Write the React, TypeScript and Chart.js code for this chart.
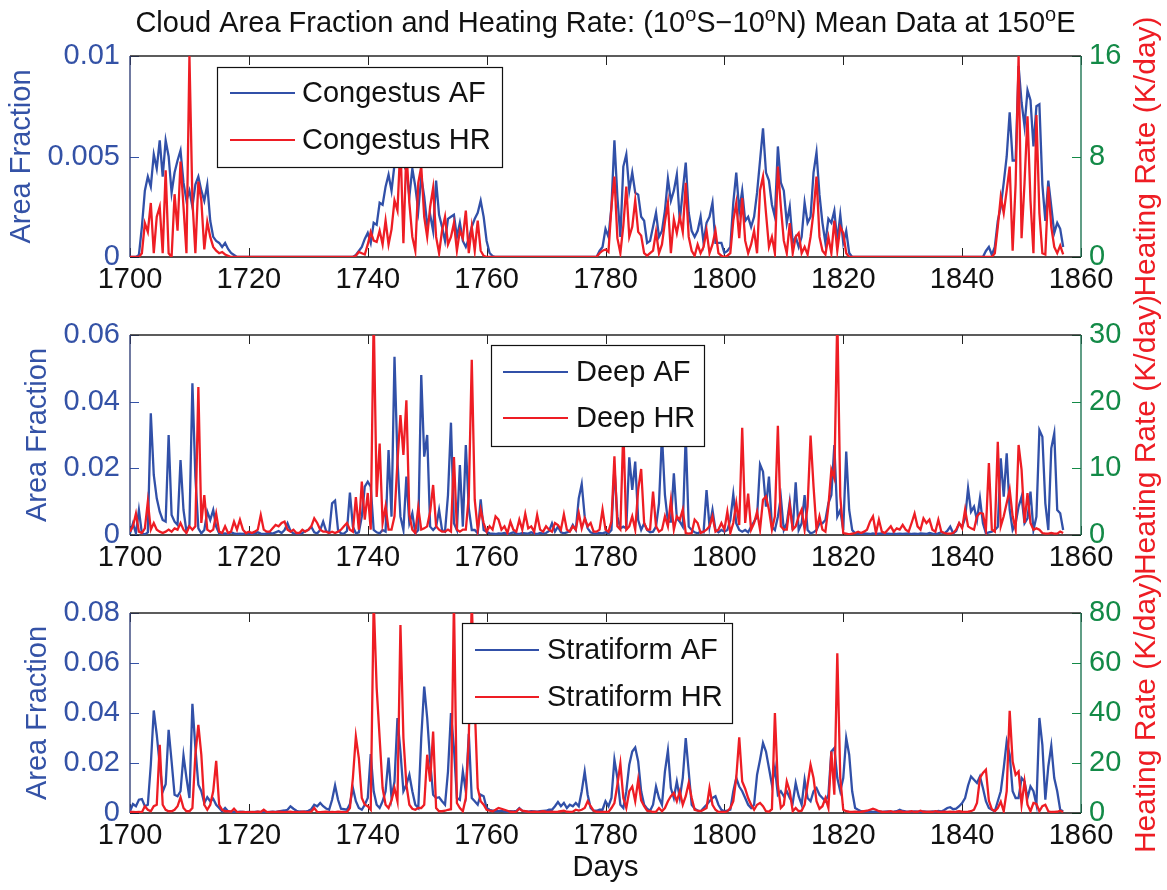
import React, { useEffect, useRef } from 'react';
import { Chart, registerables } from 'chart.js';

Chart.register(...registerables);

const FONT = '"Liberation Sans", Arial, Helvetica, sans-serif';
const FS = 29;
const BLUE = '#3452A6';
const RED = '#EE1D24';
const GREEN = '#138A47';
const LINE_BLUE = '#3150A8';
const LINE_W = 2.3;

// Time axis (days, 0.5-day steps from 1700)
const days = Array.from({ length: 315 }, (_, i) => 1700 + i * 0.5);
const xMin = 1700;
const xMax = 1860;
const xStep = 20;

// ---- Congestus ----
const congestusAF = [
  0, 0, 0, 0.0001, 0.0015, 0.0033, 0.004, 0.0035, 0.0051, 0.0044, 0.0058, 0.004, 0.0058, 0.005, 0.0032, 0.0042, 0.0048, 0.0053, 0.0037, 0.0028,
  0.0033, 0.0025, 0.0036, 0.004, 0.0033, 0.0028, 0.0036, 0.0018, 0.001, 0.0008, 0.0007, 0.0005, 0.0007, 0.0004, 0.0002, 0.0001, 0, 0, 0, 0,
  0, 0, 0, 0, 0, 0, 0, 0, 0, 0, 0, 0, 0, 0, 0, 0, 0, 0, 0, 0,
  0, 0, 0, 0, 0, 0, 0, 0, 0, 0, 0, 0, 0, 0, 0, 0, 0.0001, 0.0003, 0.0005, 0.0009,
  0.0012, 0.0007, 0.0017, 0.0016, 0.0027, 0.0026, 0.0035, 0.0041, 0.0033, 0.0046, 0.0054, 0.005, 0.0046, 0.0043, 0.003, 0.0044, 0.0035, 0.0023, 0.004, 0.003,
  0.0016, 0.0021, 0.0013, 0.0038, 0.0021, 0.0015, 0.0008, 0.0019, 0.002, 0.0021, 0.001, 0.0017, 0.0008, 0.0005, 0.0009, 0.0015, 0.0019, 0.0022, 0.0028, 0.002,
  0.0008, 0.0002, 0.00005, 0, 0, 0, 0, 0, 0, 0, 0, 0, 0, 0, 0, 0, 0, 0, 0, 0,
  0, 0, 0, 0, 0, 0, 0, 0, 0, 0, 0, 0, 0, 0, 0, 0, 0, 0, 0.0003, 0.0005,
  0.0014, 0.001, 0.0025, 0.0058, 0.003, 0.001, 0.0045, 0.0051, 0.0033, 0.0042, 0.0032, 0.0031, 0.002, 0.0018, 0.0007, 0.0008, 0.0015, 0.0022, 0.001, 0.0013,
  0.0023, 0.0039, 0.0028, 0.0033, 0.0041, 0.0018, 0.0033, 0.0047, 0.0022, 0.0013, 0.001, 0.0013, 0.002, 0.0007, 0.0017, 0.002, 0.0027, 0.0007, 0.0007, 0.0007,
  0.0002, 0.0003, 0.0005, 0.0027, 0.0042, 0.0023, 0.0033, 0.0018, 0.002, 0.0015, 0.002, 0.0032, 0.0048, 0.0064, 0.0042, 0.0038, 0.0026, 0.002, 0.0055, 0.0037,
  0.0033, 0.0017, 0.0025, 0.0007, 0.001, 0.0005, 0.001, 0.0027, 0.0017, 0.002, 0.0042, 0.0052, 0.0031, 0.0017, 0.0007, 0.0019, 0.0017, 0.0023, 0.0008, 0.0021,
  0.0007, 0.0013, 0.0002, 0, 0, 0, 0, 0, 0, 0, 0, 0, 0, 0, 0, 0, 0, 0, 0, 0,
  0, 0, 0, 0, 0, 0, 0, 0, 0, 0, 0, 0, 0, 0, 0, 0, 0, 0, 0, 0,
  0, 0, 0, 0, 0, 0, 0, 0, 0.0003, 0.0005, 0.0001, 0.0005, 0.0018, 0.0025, 0.0037, 0.005, 0.0072, 0.0048, 0.0048, 0.0095,
  0.0077, 0.0065, 0.0083, 0.0078, 0.0055, 0.0075, 0.0076, 0.0036, 0.0018, 0.0038, 0.0025, 0.0012, 0.0017, 0.0014, 0.0005,
];

const congestusHR = [
  0, 0, 0, 0, 0.3, 2.7, 2.0, 4.3, 0.3, 3.2, 4.0, 0.3, 6.9, 0.3, 0, 5.0, 2.1, 7.6, 4.0, 0.3,
  16, 4.5, 0.3, 6.0, 4.5, 0.6, 2.8, 1.6, 0.8, 0.5, 0.3, 0.4, 0.2, 0.1, 0, 0, 0, 0, 0, 0,
  0, 0, 0, 0, 0, 0, 0, 0, 0, 0, 0, 0, 0, 0, 0, 0, 0, 0, 0, 0,
  0, 0, 0, 0, 0, 0, 0, 0, 0, 0, 0, 0, 0, 0, 0, 0, 0.1, 0.4, 0.3, 0.2,
  1.0, 2.0, 1.3, 1.2, 2.1, 1.0, 2.9, 1.0, 2.2, 4.5, 3.7, 9.0, 1.1, 8.5, 4.3, 1.6, 0.5, 5.9, 7.2, 3.2,
  1.6, 4.0, 5.5, 1.6, 0.3, 2.1, 3.2, 1.0, 1.6, 2.7, 0.5, 2.1, 1.5, 3.7, 0.3, 2.4, 0.5, 2.9, 0.5, 0.1,
  0, 0, 0, 0, 0, 0, 0, 0, 0, 0, 0, 0, 0, 0, 0, 0, 0, 0, 0, 0,
  0, 0, 0, 0, 0, 0, 0, 0, 0, 0, 0, 0, 0, 0, 0, 0, 0, 0, 0.3, 0.5,
  0.6, 0.4, 4.0, 6.4, 1.5, 0.3, 2.5, 5.6, 1.6, 2.4, 4.5, 2.0, 1.7, 0.3, 0.1, 0.3, 0.5, 2.0, 0.3, 1.0,
  2.8, 4.3, 0.3, 3.0, 1.9, 3.2, 2.0, 5.9, 1.6, 0.5, 0.1, 1.0, 0.3, 0.8, 2.1, 0.3, 1.0, 2.1, 0.3, 0.1,
  0, 0.1, 0.3, 2.9, 4.3, 1.5, 4.7, 1.3, 0.3, 1.0, 2.1, 0.3, 5.3, 6.4, 3.5, 0.8, 1.6, 0.3, 7.2, 4.0,
  1.3, 0.3, 2.7, 0.3, 1.6, 1.9, 0.3, 0.8, 0.2, 1.6, 3.6, 6.4, 1.6, 0.5, 0.2, 1.6, 0.3, 2.9, 0.5, 2.4,
  1.9, 0.3, 0, 0, 0, 0, 0, 0, 0, 0, 0, 0, 0, 0, 0, 0, 0, 0, 0, 0,
  0, 0, 0, 0, 0, 0, 0, 0, 0, 0, 0, 0, 0, 0, 0, 0, 0, 0, 0, 0,
  0, 0, 0, 0, 0, 0, 0, 0, 0, 0, 0, 0.3, 2.4, 4.8, 3.5, 5.3, 7.2, 0.5, 5.8, 16,
  1.5, 5.9, 11.2, 4.5, 0.3, 11.3, 3.5, 0.3, 0.2, 5.6, 2.4, 0.8, 0.3, 0.9, 0.2,
];

// ---- Deep ----
const deepAF = [
  0.0005, 0.0035, 0.0005, 0.0075, 0.0005, 0.0002, 0.0008, 0.0365, 0.018, 0.011, 0.007, 0.0045, 0.004, 0.03, 0.006, 0.004, 0.003, 0.0225, 0.0075, 0.001,
  0.003, 0.0455, 0.0175, 0.002, 0.0005, 0.0015, 0.007, 0.0045, 0.0075, 0.0025, 0.0005, 0.0004, 0.0005, 0.0003, 0.0008, 0.0005, 0.0003, 0.0004, 0.0003, 0.0006,
  0.0004, 0.0003, 0.0005, 0.0008, 0.0004, 0.0003, 0.0005, 0.0006, 0.0004, 0.0008, 0.0012, 0.0006, 0.0015, 0.0035, 0.0012, 0.0005, 0.0004, 0.0003, 0.0006, 0.0012,
  0.0015, 0.0025, 0.0008, 0.0005, 0.0015, 0.004, 0.0012, 0.0006, 0.0095, 0.0103, 0.0015, 0.0005, 0.0004, 0.0012, 0.0127, 0.0025, 0.0005, 0.0008, 0.0055, 0.0145,
  0.016, 0.0145, 0.0015, 0.0008, 0.0005, 0.0015, 0.001, 0.0255, 0.0055, 0.0535, 0.0225, 0.0055, 0.0015, 0.0175, 0.0035, 0.0065, 0.0005, 0.0015, 0.048, 0.0235,
  0.03, 0.0025, 0.0015, 0.0025, 0.0075, 0.0015, 0.001, 0.012, 0.0337, 0.0035, 0.0015, 0.021, 0.0025, 0.027, 0.008, 0.0015, 0.0015, 0.0005, 0.0107, 0.0015,
  0.001, 0.0005, 0.0004, 0.0003, 0.0005, 0.0004, 0.0006, 0.0003, 0.0005, 0.0008, 0.0004, 0.0003, 0.0006, 0.0005, 0.0004, 0.0008, 0.0005, 0.0003, 0.0006, 0.0004,
  0.0006, 0.0012, 0.0035, 0.001, 0.0025, 0.0008, 0.0005, 0.0008, 0.0012, 0.003, 0.0015, 0.011, 0.0153, 0.0055, 0.002, 0.0008, 0.0005, 0.0004, 0.0006, 0.0005,
  0.0008, 0.0005, 0.0015, 0.0203, 0.0055, 0.002, 0.0025, 0.002, 0.0233, 0.0135, 0.022, 0.0045, 0.0015, 0.0035, 0.0015, 0.0008, 0.001, 0.0025, 0.0095, 0.03,
  0.012, 0.004, 0.004, 0.0185, 0.005, 0.004, 0.0025, 0.03, 0.0025, 0.0015, 0.0008, 0.0005, 0.001, 0.0008, 0.0135, 0.0025, 0.0075, 0.0015, 0.0008, 0.0015,
  0.001, 0.0015, 0.0045, 0.0122, 0.0035, 0.0015, 0.001, 0.0015, 0.0008, 0.0025, 0.004, 0.0055, 0.0212, 0.019, 0.0085, 0.0175, 0.0025, 0.0015, 0.0055, 0.0113,
  0.0015, 0.0035, 0.01, 0.0015, 0.0158, 0.0015, 0.0035, 0.012, 0.0015, 0.0005, 0.0008, 0.0015, 0.0035, 0.0035, 0.0045, 0.0095, 0.012, 0.027, 0.0055, 0.0075,
  0.0015, 0.025, 0.0075, 0.0015, 0.0005, 0.0004, 0.0003, 0.0005, 0.0004, 0.0003, 0.0005, 0.0003, 0.0004, 0.0005, 0.0003, 0.0004, 0.0003, 0.0005, 0.0003, 0.0004,
  0.0003, 0.0004, 0.0005, 0.0003, 0.0004, 0.0003, 0.0005, 0.0004, 0.0003, 0.0006, 0.0004, 0.0003, 0.0005, 0.0008, 0.0005, 0.0012, 0.0025, 0.0005, 0.0012, 0.0035,
  0.0025, 0.005, 0.014, 0.007, 0.0085, 0.0045, 0.011, 0.0035, 0.0005, 0.0008, 0.001, 0.0015, 0.0025, 0.023, 0.0115, 0.0245, 0.0075, 0.0015, 0.0035, 0.0085,
  0.0115, 0.0035, 0.005, 0.013, 0.0015, 0.0055, 0.0315, 0.0295, 0.0095, 0.0015, 0.026, 0.0305, 0.0075, 0.0065, 0.0015,
];

const deepHR = [
  0.5, 1.3, 3.2, 0.5, 0.3, 1.0, 5.0, 0.8, 1.8, 0.8, 0.5, 0.3, 0.5, 0.8, 0.5, 1.0, 0.8, 1.8, 0.8, 0.3,
  1.3, 0.8, 1.3, 22.2, 1.8, 6.0, 0.8, 0.5, 0.8, 3.2, 0.5, 0.3, 1.3, 0.3, 0.5, 2.0, 0.8, 2.3, 0.8, 0.3,
  0.5, 0.3, 0.5, 0.8, 3.0, 0.8, 0.5, 0.5, 1.0, 1.5, 1.3, 1.8, 2.0, 0.8, 0.5, 0.8, 0.3, 0.3, 0.8, 0.5,
  0.8, 1.3, 2.5, 1.8, 0.8, 0.5, 0.5, 0.3, 0.5, 0.3, 0.5, 0.8, 1.3, 1.8, 0.8, 0.5, 5.7, 0.8, 8.0, 2.3,
  6.3, 0.8, 33, 5.7, 13.7, 1.8, 4.3, 0.8, 0.8, 2.8, 11, 18, 12, 20.2, 3.0, 0.8, 0.3, 4.1, 0.8, 1.0,
  1.3, 3.5, 7.5, 1.3, 0.8, 0.5, 0.5, 0.8, 0.5, 11.7, 0.8, 0.5, 0.8, 0.8, 5.8, 26.3, 5.3, 0.8, 3.8, 1.8,
  0.5, 1.3, 0.8, 2.8, 2.3, 0.8, 1.3, 0.3, 2.0, 0.8, 0.5, 2.3, 0.8, 3.2, 1.0, 1.3, 0.5, 3.0, 0.8, 0.5,
  1.3, 0.8, 0.5, 1.8, 1.5, 0.8, 3.1, 0.8, 0.5, 1.3, 0.8, 3.3, 1.0, 2.5, 1.3, 1.8, 0.5, 0.5, 0.8, 3.8,
  0.8, 0.5, 2.0, 11.8, 1.3, 0.8, 16, 0.8, 1.3, 2.8, 0.8, 6.8, 9.9, 1.8, 0.8, 0.8, 6.5, 1.3, 0.5, 0.8,
  2.8, 1.3, 5.2, 0.8, 2.8, 2.3, 3.8, 0.3, 0.2, 0.3, 2.3, 1.8, 0.3, 0.5, 0.8, 1.3, 2.8, 0.5, 0.8, 1.8,
  0.8, 3.5, 0.3, 1.8, 4.8, 1.5, 16.1, 1.8, 6.2, 0.8, 1.8, 3.5, 0.8, 5.3, 5.8, 3.8, 0.8, 2.8, 16.4, 1.3,
  0.8, 0.8, 4.5, 0.8, 1.3, 2.8, 3.8, 0.8, 4.3, 14.9, 7.3, 0.8, 2.8, 0.8, 0.5, 4.3, 9.8, 8.5, 33, 5.8,
  0.3, 0.2, 0.1, 0.2, 0.3, 0.5, 0.3, 0.5, 0.8, 2.0, 2.8, 0.3, 2.3, 0.5, 0.3, 0.8, 1.3, 0.5, 1.0, 0.8,
  1.5, 0.8, 0.5, 1.8, 3.2, 1.3, 0.8, 2.5, 1.8, 2.3, 0.8, 0.5, 2.3, 0.5, 0.3, 0.2, 0.2, 0.3, 0.8, 1.8,
  1.0, 3.8, 1.3, 1.0, 0.8, 2.8, 3.3, 3.2, 0.8, 10.8, 0.8, 0.5, 14, 1.3, 2.8, 4.8, 6.8, 2.8, 0.8, 13.5,
  9.8, 1.8, 6.3, 1.8, 0.8, 1.0, 0.8, 0.3, 0.2, 0.2, 0.3, 0.2, 0.2, 0.5, 0.3,
];

// ---- Stratiform ----
const stratiformAF = [
  0.0007, 0.0036, 0.0027, 0.0053, 0.0056, 0.0027, 0.0033, 0.0193, 0.041, 0.0313, 0.0193, 0.0085, 0.0115, 0.0333, 0.0206, 0.0073, 0.0067, 0.0087, 0.023, 0.014,
  0.006, 0.0437, 0.026, 0.0113, 0.0087, 0.004, 0.0063, 0.0047, 0.0057, 0.0033, 0.002, 0.0007, 0.002, 0.0007, 0.0005, 0.0004, 0.0003, 0.0005, 0.0004, 0.0003,
  0.0004, 0.0003, 0.0004, 0.0005, 0.0003, 0.0004, 0.0003, 0.0004, 0.0005, 0.0004, 0.0006, 0.0008, 0.001, 0.0013, 0.0027, 0.0017, 0.0009, 0.0006, 0.0005, 0.0006,
  0.0009, 0.0015, 0.0033, 0.0027, 0.004, 0.0027, 0.0018, 0.0013, 0.0053, 0.011, 0.0053, 0.0017, 0.0015, 0.0013, 0.0036, 0.01, 0.0047, 0.002, 0.0013, 0.0033,
  0.006, 0.0236, 0.0087, 0.0033, 0.002, 0.0047, 0.0087, 0.0222, 0.006, 0.0126, 0.038, 0.0246, 0.0087, 0.0113, 0.0153, 0.0087, 0.0033, 0.002, 0.03, 0.0506,
  0.038, 0.0206, 0.0073, 0.006, 0.0063, 0.0047, 0.0033, 0.0166, 0.04, 0.026, 0.006, 0.0053, 0.0166, 0.0087, 0.0317, 0.006, 0.0047, 0.0033, 0.0073, 0.0067,
  0.002, 0.0013, 0.001, 0.0007, 0.0007, 0.0009, 0.0006, 0.0005, 0.0007, 0.0006, 0.0008, 0.002, 0.0009, 0.0006, 0.0005, 0.0007, 0.0006, 0.0005, 0.0007, 0.0008,
  0.0009, 0.0013, 0.0013, 0.0027, 0.0044, 0.0027, 0.004, 0.002, 0.0033, 0.0027, 0.004, 0.0027, 0.0087, 0.0166, 0.0073, 0.002, 0.0009, 0.0009, 0.0013, 0.0013,
  0.0047, 0.0027, 0.006, 0.0213, 0.014, 0.0033, 0.002, 0.0087, 0.0193, 0.0246, 0.0262, 0.0206, 0.0087, 0.0033, 0.0017, 0.0009, 0.0033, 0.0106, 0.006, 0.0033,
  0.0166, 0.025, 0.01, 0.006, 0.0126, 0.006, 0.014, 0.03, 0.0166, 0.0033, 0.0017, 0.001, 0.0007, 0.002, 0.0033, 0.0047, 0.006, 0.0067, 0.0033, 0.0013,
  0.0007, 0.0009, 0.0013, 0.0087, 0.014, 0.0106, 0.0087, 0.006, 0.0033, 0.002, 0.0033, 0.0153, 0.0213, 0.028, 0.0246, 0.018, 0.0113, 0.018, 0.0073, 0.0087,
  0.0067, 0.0087, 0.006, 0.004, 0.012, 0.0067, 0.0033, 0.0133, 0.006, 0.0047, 0.0087, 0.01, 0.0073, 0.006, 0.0047, 0.0073, 0.0246, 0.026, 0.014, 0.0087,
  0.014, 0.03, 0.0233, 0.0087, 0.002, 0.0013, 0.0007, 0.0006, 0.0005, 0.0006, 0.0004, 0.0005, 0.0006, 0.0004, 0.0005, 0.0006, 0.0004, 0.0005, 0.0007, 0.0013,
  0.0008, 0.0006, 0.0005, 0.0004, 0.0006, 0.0005, 0.0004, 0.0006, 0.0005, 0.0004, 0.0006, 0.0005, 0.0008, 0.0006, 0.0012, 0.002, 0.0023, 0.0015, 0.0017, 0.0027,
  0.004, 0.006, 0.011, 0.0146, 0.0133, 0.012, 0.0146, 0.01, 0.0047, 0.002, 0.0013, 0.0007, 0.0047, 0.0087, 0.018, 0.0286, 0.0233, 0.0087, 0.006, 0.006,
  0.014, 0.0126, 0.006, 0.0106, 0.0087, 0.0033, 0.038, 0.0273, 0.0053, 0.0186, 0.0269, 0.014, 0.0087, 0.0013, 0.0007,
];

const stratiformHR = [
  0.4, 0.4, 0.3, 0.4, 0.3, 2.7, 1.3, 0.7, 2.7, 3.3, 27.3, 3.3, 1.3, 0.7, 0.7, 1.3, 2.7, 6.3, 2.0, 0.7,
  0.7, 2.0, 23.3, 35.3, 23.3, 3.3, 1.3, 3.3, 8.7, 20.9, 3.3, 1.3, 0.7, 0.7, 0.5, 1.7, 0.4, 0.3, 0.4, 0.3,
  0.3, 0.4, 0.3, 0.5, 0.4, 1.3, 0.4, 0.3, 0.4, 0.3, 0.5, 0.4, 0.3, 0.4, 0.5, 0.3, 0.4, 0.3, 0.5, 0.4,
  0.3, 0.5, 2.0, 0.4, 0.3, 0.4, 0.5, 0.3, 0.4, 0.3, 0.5, 0.4, 0.3, 0.4, 2.0, 14, 30.6, 22, 6.0, 3.3,
  2.7, 1.3, 85, 50, 30, 10, 3.3, 2.0, 5.0, 10, 4.7, 75.2, 30, 11.3, 3.3, 1.7, 1.3, 2.0, 2.0, 3.3,
  23.3, 12.6, 32.6, 2.0, 0.7, 0.7, 0.9, 1.3, 1.5, 85, 4.0, 2.0, 0.7, 6.0, 30, 85, 43, 10, 4.7, 3.3,
  1.3, 0.9, 0.7, 1.3, 2.0, 1.7, 1.3, 0.9, 0.5, 0.4, 0.5, 1.7, 0.9, 0.7, 0.5, 0.4, 0.5, 0.4, 0.5, 0.7,
  0.5, 0.4, 0.5, 0.4, 0.5, 0.7, 0.9, 0.5, 0.4, 0.5, 1.3, 1.0, 1.3, 2.0, 4.7, 2.7, 0.9, 0.5, 0.4, 0.4,
  0.4, 0.4, 2.0, 4.0, 11.3, 19.7, 6.0, 2.0, 8.7, 10.6, 4.7, 13.3, 5.0, 2.7, 0.9, 0.7, 0.4, 0.5, 2.0, 0.7,
  2.0, 4.7, 6.7, 8.0, 4.7, 8.7, 3.3, 6.7, 12, 6.0, 1.3, 0.9, 0.7, 1.3, 2.0, 10, 3.3, 1.3, 0.4, 0.4,
  0.4, 0.7, 2.0, 4.7, 14, 30.3, 12.6, 9.7, 6.0, 3.3, 1.3, 3.3, 4.0, 2.7, 0.7, 0.5, 1.5, 40, 11.3, 2.0,
  3.3, 12.6, 8.7, 0.7, 2.0, 0.7, 0.9, 3.3, 11.3, 19.3, 14, 4.7, 1.7, 2.7, 6.0, 2.0, 24.6, 7.3, 63.9, 14,
  1.3, 0.7, 0.5, 0.4, 0.5, 0.4, 0.5, 0.7, 0.9, 1.3, 1.7, 1.3, 0.7, 0.5, 0.4, 0.5, 0.7, 0.4, 0.5, 0.7,
  0.5, 0.4, 0.5, 0.7, 0.4, 0.5, 0.9, 0.5, 0.4, 0.5, 0.4, 0.7, 0.5, 0.4, 0.5, 0.4, 0.5, 0.4, 0.5, 0.7,
  0.5, 0.4, 0.5, 0.7, 1.3, 4.0, 14, 16, 17.3, 5.0, 1.5, 0.7, 2.0, 4.5, 0.7, 8.7, 40.9, 20.6, 15.3, 16.6,
  3.3, 12.6, 3.3, 0.7, 4.0, 3.6, 0.7, 2.7, 3.3, 0.7, 0.4, 0.4, 0.5, 0.9, 0.4,
];

const titleParts = [
  { t: 'Cloud Area Fraction and Heating Rate: (10', sup: false },
  { t: 'o', sup: true },
  { t: 'S\u221210', sup: false },
  { t: 'o', sup: true },
  { t: 'N) Mean Data at 150', sup: false },
  { t: 'o', sup: true },
  { t: 'E', sup: false },
];

const panels = [
  {
    key: 'congestus', top: 0, height: 300, padTop: 56, xAxisH: 43,
    af: congestusAF, hr: congestusHR, afLabel: 'Congestus AF', hrLabel: 'Congestus HR',
    afMax: 0.01, afStep: 0.005, hrMax: 16, hrStep: 8, leftTitleX: 22,
    legend: { x: 217, y: 67, w: 285, h: 100, lx1: 230, lx2: 295, tx: 302, rows: [93, 140] },
    title: true, days: false,
  },
  {
    key: 'deep', top: 280, height: 300, padTop: 55, xAxisH: 45,
    af: deepAF, hr: deepHR, afLabel: 'Deep AF', hrLabel: 'Deep HR',
    afMax: 0.06, afStep: 0.02, hrMax: 30, hrStep: 10, leftTitleX: 38,
    legend: { x: 491, y: 345, w: 213, h: 101, lx1: 503, lx2: 568, tx: 576, rows: [372, 418] },
    title: false, days: false,
  },
  {
    key: 'stratiform', top: 556, height: 334, padTop: 57, xAxisH: 77,
    af: stratiformAF, hr: stratiformHR, afLabel: 'Stratiform AF', hrLabel: 'Stratiform HR',
    afMax: 0.08, afStep: 0.02, hrMax: 80, hrStep: 20, leftTitleX: 38,
    legend: { x: 462, y: 623, w: 270, h: 100, lx1: 475, lx2: 539, tx: 547, rows: [650, 697] },
    title: false, days: true,
  },
];

function fmt(v: number) {
  return String(parseFloat(Number(v).toFixed(4)));
}

function makePlugin(p: any) {
  return {
    id: 'deco_' + p.key,
    beforeDatasetsDraw(chart: any) {
      const { ctx, chartArea: a } = chart;
      const xs = chart.scales.x;
      const yl = chart.scales.yL;
      const yr = chart.scales.yR;
      ctx.save();
      ctx.lineWidth = 1;
      const L = 9;
      ctx.strokeStyle = '#222';
      xs.ticks.forEach((t: any) => {
        const px = Math.round(xs.getPixelForValue(t.value)) + 0.5;
        ctx.beginPath();
        ctx.moveTo(px, a.bottom); ctx.lineTo(px, a.bottom - L);
        ctx.moveTo(px, a.top); ctx.lineTo(px, a.top + L);
        ctx.stroke();
      });
      ctx.strokeStyle = BLUE;
      yl.ticks.forEach((t: any) => {
        const py = Math.round(yl.getPixelForValue(t.value)) + 0.5;
        ctx.beginPath(); ctx.moveTo(a.left, py); ctx.lineTo(a.left + L, py); ctx.stroke();
      });
      ctx.strokeStyle = GREEN;
      yr.ticks.forEach((t: any) => {
        const py = Math.round(yr.getPixelForValue(t.value)) + 0.5;
        ctx.beginPath(); ctx.moveTo(a.right, py); ctx.lineTo(a.right - L, py); ctx.stroke();
      });
      // frame
      ctx.lineWidth = 1.4;
      ctx.strokeStyle = '#262626';
      ctx.beginPath(); ctx.moveTo(a.left, a.top); ctx.lineTo(a.right, a.top); ctx.stroke();
      ctx.strokeStyle = '#111';
      ctx.beginPath(); ctx.moveTo(a.left, a.bottom); ctx.lineTo(a.right, a.bottom); ctx.stroke();
      ctx.strokeStyle = '#34427A';
      ctx.beginPath(); ctx.moveTo(a.left, a.top); ctx.lineTo(a.left, a.bottom); ctx.stroke();
      ctx.strokeStyle = '#1D7552';
      ctx.beginPath(); ctx.moveTo(a.right, a.top); ctx.lineTo(a.right, a.bottom); ctx.stroke();
      ctx.restore();
    },
    afterDatasetsDraw(chart: any) {
      const { ctx } = chart;
      const lg = p.legend;
      const oy = p.top;
      ctx.save();
      ctx.fillStyle = '#fff';
      ctx.fillRect(lg.x, lg.y - oy, lg.w, lg.h);
      ctx.lineWidth = 1.2;
      ctx.strokeStyle = '#111';
      ctx.strokeRect(lg.x + 0.5, lg.y - oy + 0.5, lg.w, lg.h);
      const labels = [p.afLabel, p.hrLabel];
      const cols = [LINE_BLUE, RED];
      ctx.font = `${FS}px ${FONT}`;
      ctx.textBaseline = 'middle';
      ctx.textAlign = 'left';
      lg.rows.forEach((ry: number, i: number) => {
        ctx.strokeStyle = cols[i];
        ctx.lineWidth = 2;
        ctx.beginPath(); ctx.moveTo(lg.lx1, ry - oy); ctx.lineTo(lg.lx2, ry - oy); ctx.stroke();
        ctx.fillStyle = '#111';
        ctx.fillText(labels[i], lg.tx, ry - oy + 1);
      });
      ctx.restore();
    },
    afterDraw(chart: any) {
      const { ctx, chartArea: a } = chart;
      const cy = (a.top + a.bottom) / 2;
      ctx.save();
      ctx.font = `${FS}px ${FONT}`;
      ctx.textAlign = 'center';
      ctx.textBaseline = 'middle';
      // left title
      ctx.save();
      ctx.translate(p.leftTitleX, cy);
      ctx.rotate(-Math.PI / 2);
      ctx.fillStyle = BLUE;
      ctx.fillText('Area Fraction', 0, 0);
      ctx.restore();
      // right title
      ctx.save();
      ctx.translate(1147, cy);
      ctx.rotate(-Math.PI / 2);
      ctx.fillStyle = RED;
      ctx.font = `30px ${FONT}`;
      ctx.fillText('Heating Rate (K/day)', 0, 0);
      ctx.restore();
      if (p.days) {
        ctx.fillStyle = '#111';
        ctx.fillText('Days', (a.left + a.right) / 2, 868 - p.top);
      }
      if (p.title) {
        const base = `${FS}px ${FONT}`;
        const small = `${Math.round(FS * 0.68)}px ${FONT}`;
        let total = 0;
        const widths = titleParts.map((tp) => {
          ctx.font = tp.sup ? small : base;
          const w = ctx.measureText(tp.t).width;
          total += w;
          return w;
        });
        let x = (a.left + a.right) / 2 - total / 2;
        const y = 32;
        ctx.fillStyle = '#111';
        ctx.textAlign = 'left';
        ctx.textBaseline = 'alphabetic';
        titleParts.forEach((tp, i) => {
          ctx.font = tp.sup ? small : base;
          ctx.fillText(tp.t, x, tp.sup ? y - 11 : y);
          x += widths[i];
        });
      }
      ctx.restore();
    },
  };
}

function Panel({ p }: { p: any }) {
  const ref = useRef<HTMLCanvasElement | null>(null);
  useEffect(() => {
    const canvas = ref.current;
    if (!canvas) return;
    const tickFont = { size: FS, family: FONT };
    const chart = new Chart(canvas, {
      type: 'line',
      data: {
        labels: days,
        datasets: [
          {
            label: p.afLabel, data: p.af, yAxisID: 'yL', borderColor: LINE_BLUE,
            borderWidth: LINE_W, pointRadius: 0, tension: 0, order: 2,
          },
          {
            label: p.hrLabel, data: p.hr, yAxisID: 'yR', borderColor: RED,
            borderWidth: LINE_W, pointRadius: 0, tension: 0, order: 1,
          },
        ],
      },
      options: {
        responsive: false,
        maintainAspectRatio: false,
        animation: false,
        devicePixelRatio: 1,
        layout: { padding: { top: p.padTop, left: 0, right: 0, bottom: 0 } },
        plugins: { legend: { display: false }, tooltip: { enabled: false } },
        events: [],
        scales: {
          x: {
            type: 'linear', min: xMin, max: xMax,
            grid: { display: false, drawTicks: false },
            border: { display: false },
            ticks: { stepSize: xStep, autoSkip: false, maxRotation: 0, padding: 6, color: '#111', font: tickFont,
              callback: (v: any) => String(v) },
            afterFit: (s: any) => { s.height = p.xAxisH; },
          },
          yL: {
            type: 'linear', position: 'left', min: 0, max: p.afMax,
            grid: { display: false, drawTicks: false },
            border: { display: false },
            ticks: { stepSize: p.afStep, color: BLUE, font: tickFont, padding: 10, callback: (v: any) => fmt(v) },
            afterFit: (s: any) => { s.width = 130; },
          },
          yR: {
            type: 'linear', position: 'right', min: 0, max: p.hrMax,
            grid: { display: false, drawTicks: false },
            border: { display: false },
            ticks: { stepSize: p.hrStep, color: GREEN, font: tickFont, padding: 8, callback: (v: any) => fmt(v) },
            afterFit: (s: any) => { s.width = 86; },
          },
        },
      },
      plugins: [makePlugin(p)],
    } as any);
    return () => chart.destroy();
  }, []);
  return (
    <canvas
      ref={ref}
      width={1167}
      height={p.height}
      style={{ position: 'absolute', left: 0, top: p.top, width: 1167, height: p.height }}
    />
  );
}

export default function App() {
  return (
    <div style={{ position: 'absolute', left: 0, top: 0, width: 1167, height: 890, background: '#fff', overflow: 'hidden' }}>
      {panels.map((p) => (
        <Panel key={p.key} p={p} />
      ))}
    </div>
  );
}
